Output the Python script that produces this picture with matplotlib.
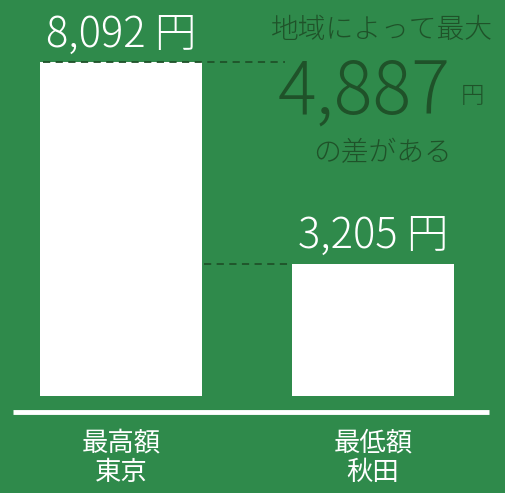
import matplotlib
matplotlib.use("Agg")
import matplotlib.pyplot as plt

plt.rcParams['font.family'] = ['Noto Sans CJK JP', 'DejaVu Sans']

categories = ["最高額\n東京", "最低額\n秋田"]
values = [8092, 3205]
value_labels = ["8,092 円", "3,205 円"]
diff_label = "4,887"
note_top = "地域によって最大"
note_bottom = "の差がある"

bg = "#2f8a4b"
dark = "#1f5229"

fig = plt.figure(figsize=(5.05, 4.93), dpi=100, facecolor=bg)
ax = fig.add_axes([0, 0, 1, 1], facecolor=bg)
ax.set_xlim(-0.48, 1.524)
ax.set_ylim(-2350, 9594)
ax.axis("off")

x = [0, 1]
ax.bar(x, values, width=0.640, color="white", zorder=2)

for xi, v, lab in zip(x, values, value_labels):
    ax.annotate(lab, (xi, v), xytext=(0, 4), textcoords="offset points",
                ha="center", va="bottom", color="white", fontsize=30,
                fontweight="light")

# dashed reference lines
ax.plot([-0.31, 0.65], [values[0], values[0]], ls=(0, (4, 3)), color=dark,
        lw=1.3, zorder=3)
ax.plot([0.33, 0.68], [values[1], values[1]], ls=(0, (4, 3)), color=dark,
        lw=1.3, zorder=1)

# baseline
ax.plot([0.026, 0.968], [0.164, 0.164], transform=ax.transAxes, color="white",
        lw=3.5, solid_capstyle="butt")

# category labels
for xi, c in zip(x, categories):
    ax.text(xi, -800, c, ha="center", va="top", color="white", fontsize=19,
            linespacing=1.15)

# annotation
ax.text(0.757, 0.94, note_top, transform=ax.transAxes, ha="center",
        va="center", color=dark, fontsize=20, fontweight="light")
ax.text(0.72, 0.81, diff_label, transform=ax.transAxes, ha="center",
        va="center", color=dark, fontsize=52, fontweight="light")
ax.text(0.935, 0.805, "円", transform=ax.transAxes, ha="center",
        va="center", color=dark, fontsize=17, fontweight="light")
ax.text(0.757, 0.69, note_bottom, transform=ax.transAxes, ha="center",
        va="center", color=dark, fontsize=20, fontweight="light")

fig.savefig("out.png", dpi=100, facecolor=bg)
